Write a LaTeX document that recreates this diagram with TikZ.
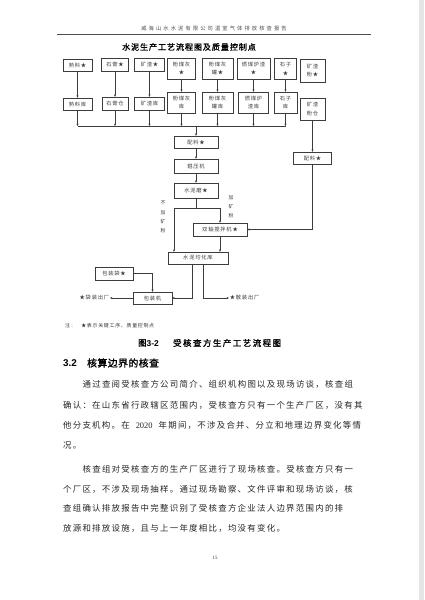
\documentclass[tikz,border=0pt]{standalone}
\usepackage{fontspec}
\setmainfont{Liberation Serif}
\setsansfont{Liberation Sans}
\newfontfamily\cjkhead[LetterSpace=40]{Noto Sans CJK SC}
\newfontfamily\cjktitle[LetterSpace=11,FakeBold=1.5]{Noto Sans CJK SC}
\newfontfamily\cjkbox[LetterSpace=15]{Noto Sans CJK SC}
\newfontfamily\cjknote[LetterSpace=15]{Noto Sans CJK SC}
\newfontfamily\cjkcap[LetterSpace=18,FakeBold=1.5]{Noto Sans CJK SC}
\newfontfamily\cjksec[LetterSpace=5,FakeBold=1.5]{Noto Sans CJK SC}
\newfontfamily\cjkbody[LetterSpace=15]{Noto Sans CJK SC}
\usetikzlibrary{arrows.meta,calc}
\definecolor{inkgray}{RGB}{60,60,60}
\tikzset{
  wh/.style 2 args={minimum width=#1*0.05cm, minimum height=#2*0.05cm},
  box/.style={rectangle, draw=inkgray, line width=0.6pt, inner sep=0pt, align=center, text=inkgray, font=\fontsize{7.5pt}{12pt}\selectfont\cjkbox},
  arrow/.style={-{Stealth[length=3.5pt,width=3pt]}, draw=inkgray, line width=0.5pt},
  line/.style={draw=inkgray, line width=0.5pt},
  vlabel/.style={align=center, inner sep=0pt, text=inkgray, font=\fontsize{7pt}{13pt}\selectfont\cjkbox},
  outlabel/.style={inner sep=1pt, text=inkgray, font=\fontsize{7.5pt}{8pt}\selectfont\cjkbox},
  bodyline/.style={anchor=west, inner sep=0pt, text=black!85, font=\fontsize{12pt}{14pt}\selectfont\cjkbody},
}

\begin{document}
\begin{tikzpicture}[x=0.05cm,y=-0.05cm]
  \useasboundingbox (0,0) rectangle (424,600);
  \fill[white] (0,0) rectangle (424,600);
  \fill[gray!20] (419,0) rectangle (424,600);

  % page header
  \node[text=black!70, font=\fontsize{7.5pt}{9pt}\selectfont\cjkhead] (header) at (214,28) {威海山水水泥有限公司温室气体排放核查报告};
  \draw[black!70, line width=0.6pt] (57,34) -- (371,34);

  % chart title
  \node[anchor=west, inner sep=0pt, font=\fontsize{11.5pt}{13pt}\selectfont\cjktitle] (title) at (122,47) {水泥生产工艺流程图及质量控制点};

  % raw materials
  \node[box, wh={29}{12}] (sl)   at (77.5,65)   {熟料★};
  \node[box, wh={27}{13}] (sg)   at (115,64.5)  {石膏★};
  \node[box, wh={30}{13}] (kz)   at (149.5,64.5){矿渣★};
  \node[box, wh={28}{21}] (fmh)  at (181.5,68.5){粉煤灰\\★};
  \node[box, wh={31}{21}] (fmhg) at (217.5,68.5){粉煤灰\\罐★};
  \node[box, wh={33}{21}] (rml)  at (253.5,68.5){燃煤炉渣\\★};
  \node[box, wh={22}{21}] (sz)   at (285.5,69)  {石子\\★};
  \node[box, wh={25}{23}] (kzf)  at (312.5,70.5){矿渣\\粉★};

  % storage
  \node[box, wh={29}{12}] (slk)   at (77.5,104)   {熟料库};
  \node[box, wh={26}{13}] (sgc)   at (115,103.5)  {石膏仓};
  \node[box, wh={30}{13}] (kzk)   at (149.5,103.5){矿渣库};
  \node[box, wh={28}{21}] (fmhk)  at (181.5,102.5){粉煤灰\\库};
  \node[box, wh={31}{21}] (fmhgk) at (217.5,102.5){粉煤灰\\罐库};
  \node[box, wh={30}{21}] (rmlk)  at (253.5,102.5){燃煤炉\\渣库};
  \node[box, wh={23}{21}] (szk)   at (285.5,102.5){石子\\库};
  \node[box, wh={25}{22}] (kzfc)  at (312.5,109)  {矿渣\\粉仓};

  \foreach \a/\b in {sl/slk, sg/sgc, kz/kzk, fmh/fmhk, fmhg/fmhgk, rml/rmlk, sz/szk}
    \draw[arrow] (\a) -- (\b);

  % collector
  \coordinate (bus) at (196,126);
  \foreach \b in {slk, sgc, kzk, fmhk, fmhgk, rmlk, szk}
    \draw[arrow] (\b) -- (\b |- bus);
  \draw[line] (slk |- bus) -- (szk |- bus);

  % main line
  \node[box, wh={44}{12}] (pl1) at (196,142)   {配料★};
  \node[box, wh={44}{14}] (gyj) at (196,166)   {辊压机};
  \node[box, wh={44}{15}] (snm) at (196,190.5) {水泥磨★};
  \node[box, wh={38}{12}] (pl2) at (312.5,158) {配料★};
  \node[box, wh={54}{13}] (szj) at (220,229.5) {双轴搅拌机★};
  \node[box, wh={60}{12}] (jhk) at (198,258)   {水泥均化库};
  \node[box, wh={38}{13}] (bzd) at (114,273.5) {包装袋★};
  \node[box, wh={39}{12}] (bzj) at (152.5,298) {包装机};

  \draw[arrow] (bus) -- (pl1);
  \draw[arrow] (pl1) -- (gyj);
  \draw[arrow] (gyj) -- (snm);
  \draw[arrow] (kzfc) -- (pl2);

  % split after the cement mill
  \coordinate (fork)  at (196,208);
  \coordinate (bujia) at (174,208);
  \coordinate (jia)   at (220,208);
  \draw[line] (snm) -- (fork);
  \draw[line] (bujia) -- (jia);
  \draw[arrow] (bujia) -- (bujia |- jhk.north);
  \draw[arrow] (jia) -- (szj);
  \node[vlabel] (bujialbl) at (163,217) {不\\加\\矿\\粉};
  \node[vlabel] (jialbl)   at (231,207) {加\\矿\\粉};

  \draw[arrow] (pl2) |- (szj);
  \draw[arrow] (szj) -- (szj |- jhk.north);

  % dispatch
  \node[outlabel, anchor=east] (dzcc) at (110,298) {★袋装出厂};
  \node[outlabel, anchor=west] (szcc) at (229,298) {★散装出厂};
  \draw[arrow] ($(jhk.south)+(-6,0)$) |- (bzj);
  \draw[arrow] ($(jhk.south)+(5,0)$) |- (szcc.west);
  \draw[arrow] (bzd) -| (bzj);
  \draw[arrow] (bzj) -- (dzcc);

  % note
  \node[anchor=west, inner sep=0pt, text=black!80, font=\fontsize{7pt}{8pt}\selectfont\cjknote] (note) at (65,326) {注：\hspace{8pt}★表示关键工序、质量控制点};

  % caption and section
  \node[anchor=west, inner sep=0pt, font=\fontsize{12pt}{14pt}\selectfont\cjkcap] (capno) at (138,343) {图{\sffamily\bfseries 3-2}};
  \node[anchor=west, inner sep=0pt, font=\fontsize{12pt}{14pt}\selectfont\cjkcap] (captxt) at (173,343) {受核查方生产工艺流程图};
  \node[anchor=west, inner sep=0pt, font=\fontsize{14pt}{16pt}\selectfont\sffamily\bfseries] (secno) at (63,363) {3.2};
  \node[anchor=west, inner sep=0pt, font=\fontsize{14pt}{16pt}\selectfont\cjksec] (sectxt) at (87,363) {核算边界的核查};

  % body text
  \node[bodyline] (p1) at (82.5,384) {通过查阅受核查方公司简介、组织机构图以及现场访谈，核查组};
  \node[bodyline] (p2) at (63,405)   {确认：在山东省行政辖区范围内，受核查方只有一个生产厂区，没有其};
  \node[bodyline] (p3) at (63,425)   {他分支机构。在\hspace{0.3cm}{\rmfamily 2020}\hspace{0.3cm}年期间，不涉及合并、分立和地理边界变化等情};
  \node[bodyline] (p4) at (63,445)   {况。};
  \node[bodyline] (p5) at (82.5,469) {核查组对受核查方的生产厂区进行了现场核查。受核查方只有一};
  \node[bodyline] (p6) at (63,489)   {个厂区，不涉及现场抽样。通过现场勘察、文件评审和现场访谈，核};
  \node[bodyline] (p7) at (63,508)   {查组确认排放报告中完整识别了受核查方企业法人边界范围内的排};
  \node[bodyline] (p8) at (63,528)   {放源和排放设施，且与上一年度相比，均没有变化。};

  % page number
  \node[font=\fontsize{7pt}{8pt}\selectfont, text=black!80] (pageno) at (215,558) {15};
\end{tikzpicture}
\end{document}
